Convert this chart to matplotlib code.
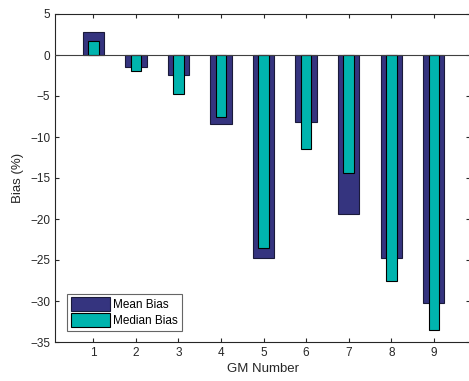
import matplotlib
matplotlib.use("Agg")
import matplotlib.pyplot as plt
import numpy as np

plt.rcParams['font.family'] = ['Liberation Sans', 'DejaVu Sans']

gm_numbers = [1, 2, 3, 4, 5, 6, 7, 8, 9]
mean_bias = [2.8, -1.5, -2.4, -8.4, -24.8, -8.2, -19.4, -24.8, -30.2]
median_bias = [1.7, -1.9, -4.8, -7.5, -23.5, -11.5, -14.4, -27.5, -33.5]

mean_color = '#35347f'
median_color = '#00b4ae'
text_color = '#262626'

W, H = 469, 381
fig = plt.figure(figsize=(W / 100, H / 100), dpi=100)
left, right, top, bottom = 55, 470, 14, 342
ax = fig.add_axes([left / W, 1 - bottom / H, (right - left) / W, (bottom - top) / H])

x = np.array(gm_numbers)
ax.bar(x, mean_bias, width=0.5, color=mean_color, edgecolor='#1a1a3a',
       linewidth=0.8, label='Mean Bias', zorder=2)
ax.bar(x, median_bias, width=0.25, color=median_color, edgecolor='black',
       linewidth=0.8, label='Median Bias', zorder=3)
ax.axhline(0, color='#404040', linewidth=0.8, zorder=4)

ax.set_xlim(0.1, 9.85)
ax.set_ylim(-35, 5)
ax.set_xticks(gm_numbers)
ax.set_yticks(np.arange(-35, 6, 5))
ax.tick_params(direction='in', top=True, right=True, length=3, width=0.8,
               colors=text_color, labelsize=8.5, labelcolor=text_color)
for s in ax.spines.values():
    s.set_color(text_color)
    s.set_linewidth(0.8)

ax.set_xlabel('GM Number', fontsize=9.5, color=text_color, labelpad=3)
ax.set_ylabel('Bias (%)', fontsize=9.5, color=text_color, labelpad=4)

leg = ax.legend(loc='lower left', bbox_to_anchor=(0.03, 0.035), fontsize=8.5,
                frameon=True, fancybox=False, edgecolor='#404040',
                handlelength=3.3, handleheight=1.35, borderpad=0.3,
                labelspacing=0.2, handletextpad=0.3, borderaxespad=0)
leg.get_frame().set_linewidth(0.8)

fig.savefig('out.png', dpi=100)
